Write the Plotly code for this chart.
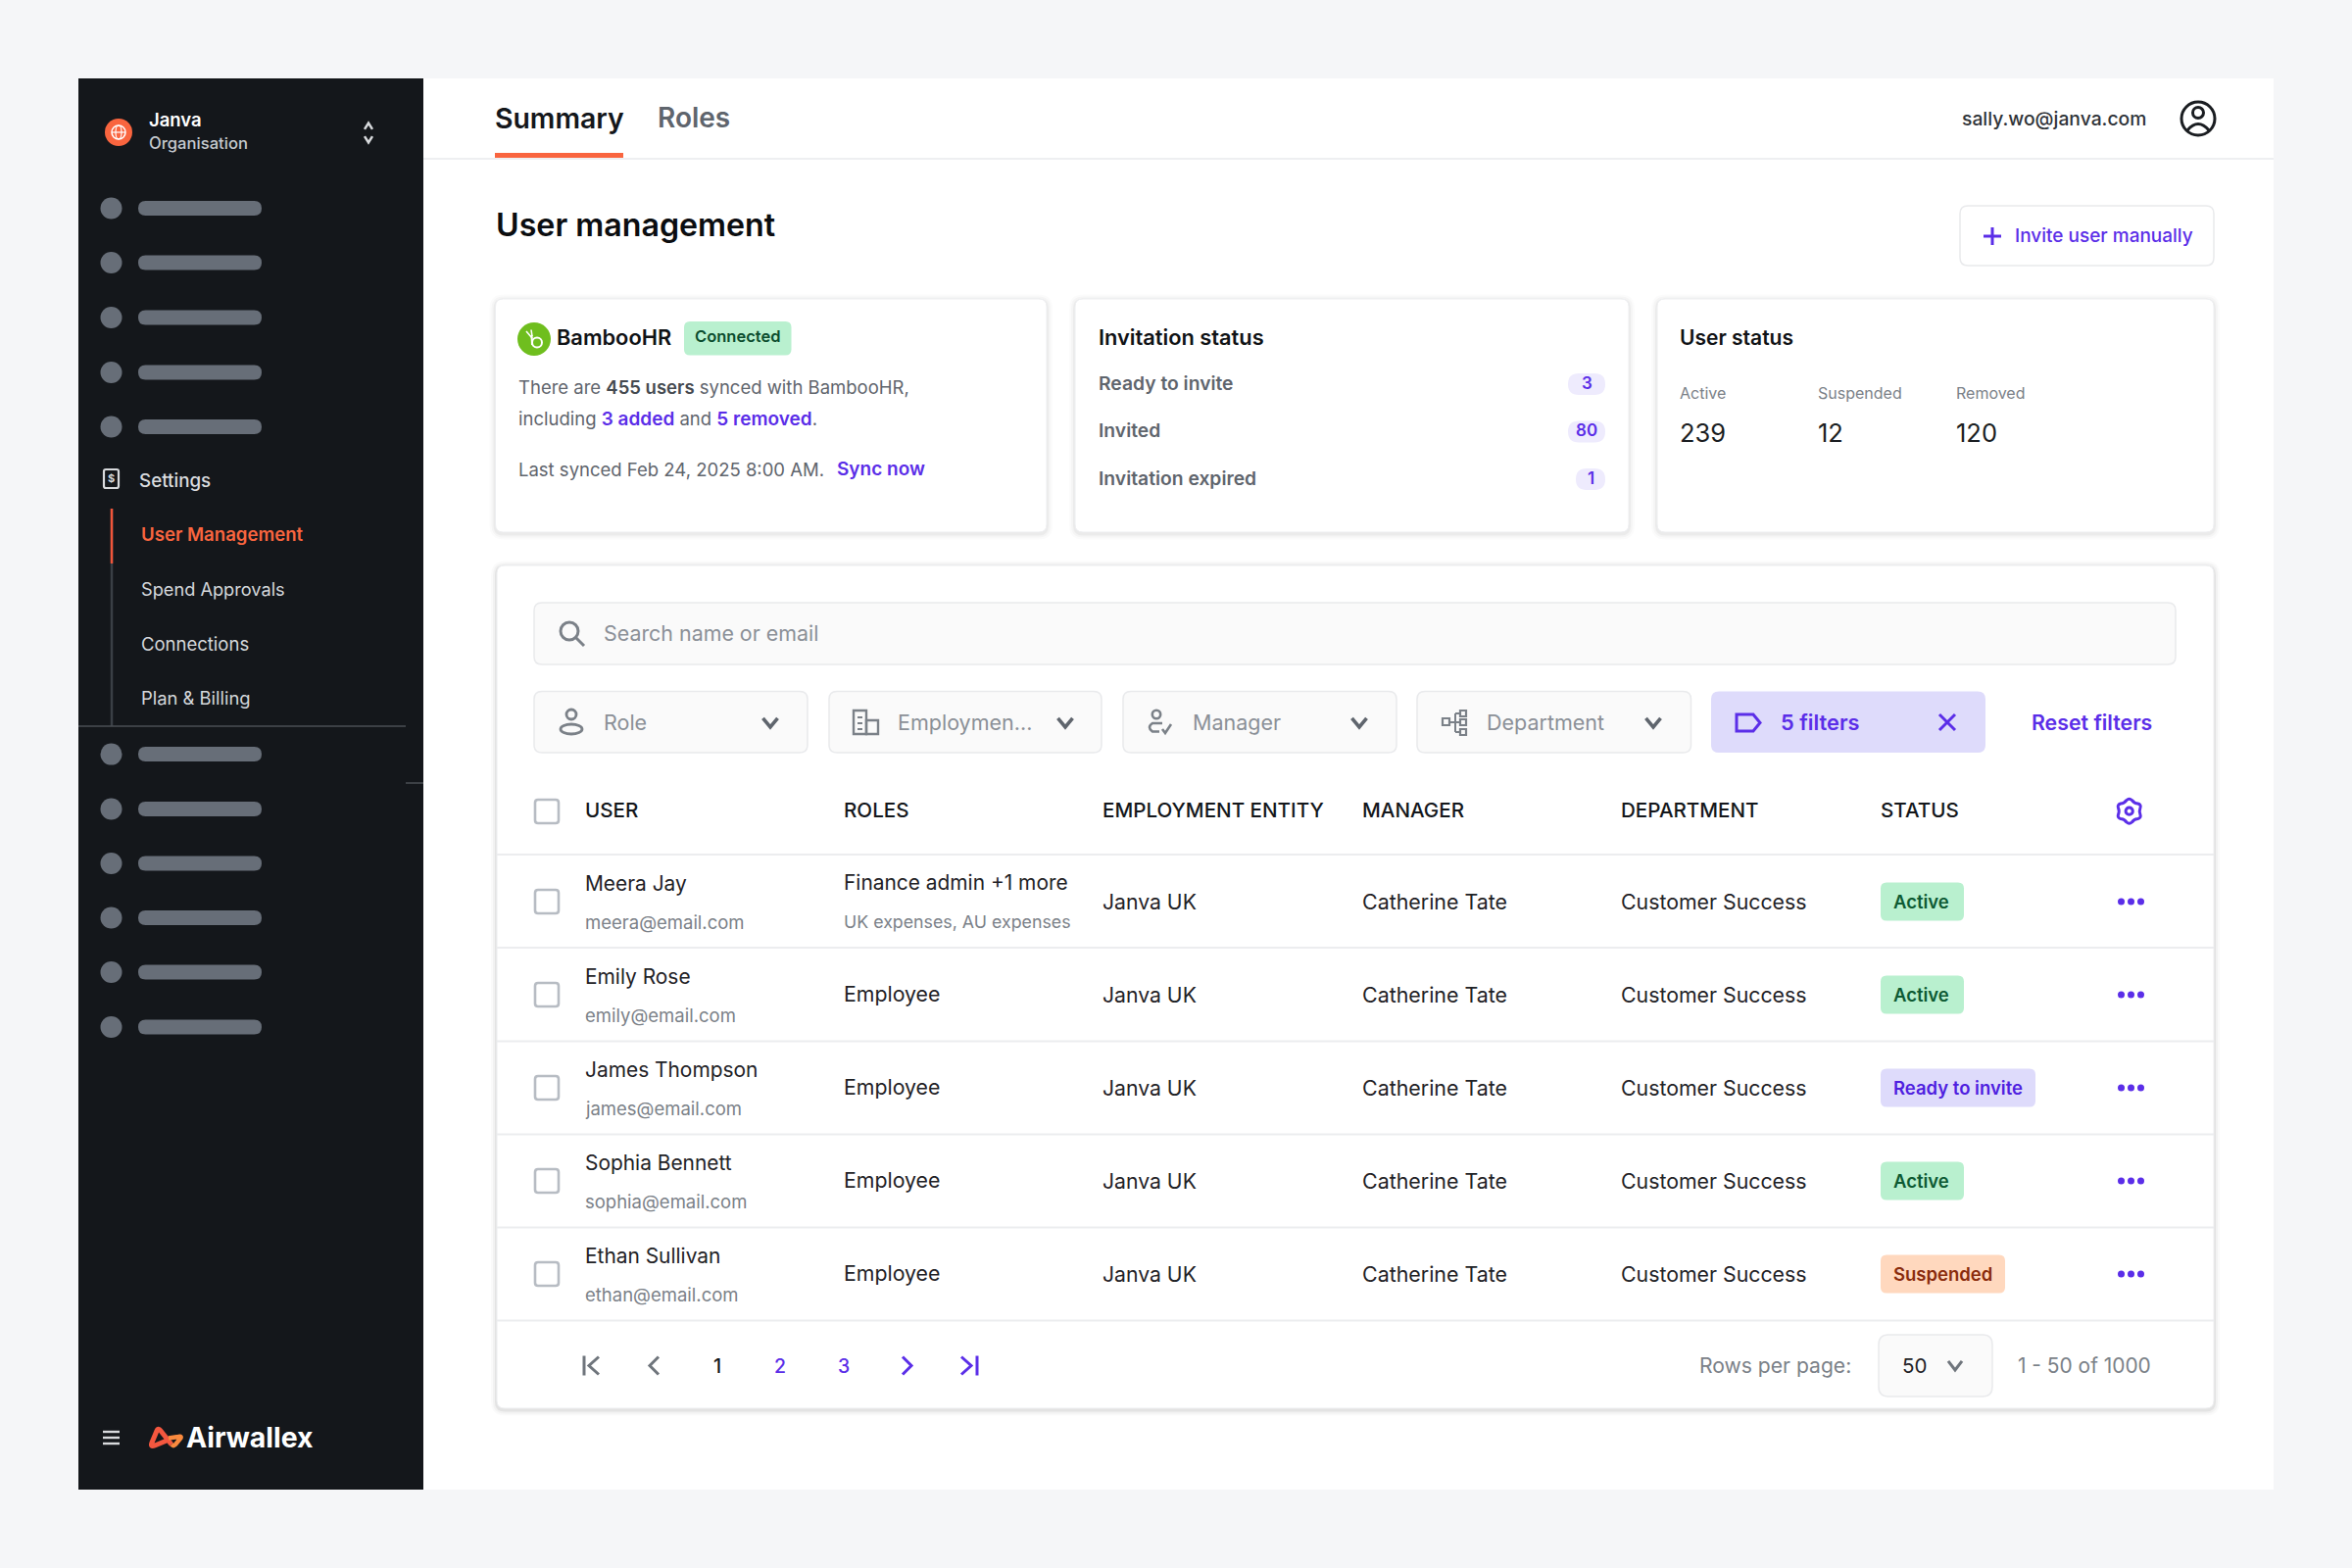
import plotly.graph_objects as go

# ---------- data ----------
org_name = "Janva"
org_sub = "Organisation"
tabs = ["Summary", "Roles"]
account_email = "sally.wo@janva.com"
page_title = "User management"
invite_label = "Invite user manually"
nav_items = ["User Management", "Spend Approvals", "Connections", "Plan & Billing"]
invitation_labels = ["Ready to invite", "Invited", "Invitation expired"]
invitation_counts = [3, 80, 1]
user_status_labels = ["Active", "Suspended", "Removed"]
user_status_counts = [239, 12, 120]
filter_labels = ["Role", "Employmen...", "Manager", "Department"]
columns = ["USER", "ROLES", "EMPLOYMENT ENTITY", "MANAGER", "DEPARTMENT", "STATUS"]
names = ["Meera Jay", "Emily Rose", "James Thompson", "Sophia Bennett", "Ethan Sullivan"]
emails = ["meera@email.com", "emily@email.com", "james@email.com", "sophia@email.com", "ethan@email.com"]
roles = ["Finance admin +1 more", "Employee", "Employee", "Employee", "Employee"]
role_notes = ["UK expenses, AU expenses", "", "", "", ""]
entities = ["Janva UK"] * 5
managers = ["Catherine Tate"] * 5
departments = ["Customer Success"] * 5
statuses = ["Active", "Active", "Ready to invite", "Active", "Suspended"]
pages = ["1", "2", "3"]

# ---------- style ----------
FONT = "Inter"
PURPLE = "#5B2EE8"
ORANGE = "#F9653F"
DARK = "#14171B"
GREY = "#7B8188"
MID = "#5F656D"
BORDER = "#E9EAEC"
LILAC = "#DEDBFB"
BADGE = {"Active": ("#B9F0CF", "#0D5A33", 85),
         "Ready to invite": (LILAC, "#4F1FE0", 158),
         "Suspended": ("#FFD8BE", "#8A2C0D", 127)}
TEXT_DY = -1.2

shapes, notes = [], []


def add(**k):
    k["layer"] = "below"
    shapes.append(k)


def rr_path(x0, y0, x1, y1, r):
    return (f"M{x0+r},{y0} L{x1-r},{y0} Q{x1},{y0} {x1},{y0+r} L{x1},{y1-r} Q{x1},{y1} {x1-r},{y1} "
            f"L{x0+r},{y1} Q{x0},{y1} {x0},{y1-r} L{x0},{y0+r} Q{x0},{y0} {x0+r},{y0} Z")


def rrect(x0, y0, x1, y1, r=6, fill="#FFFFFF", line=None, lw=1.5):
    add(type="path", path=rr_path(x0, y0, x1, y1, r), fillcolor=fill,
        line=dict(color=line or "rgba(0,0,0,0)", width=lw if line else 0))


def rect(x0, y0, x1, y1, fill):
    add(type="rect", x0=x0, y0=y0, x1=x1, y1=y1, fillcolor=fill, line=dict(width=0))


def box(x0, y0, x1, y1, color, w=2.3):
    add(type="rect", x0=x0, y0=y0, x1=x1, y1=y1, line=dict(color=color, width=w))


def stroke(path, color, w=2.5):
    add(type="path", path=path, line=dict(color=color, width=w), fillcolor="rgba(0,0,0,0)")


def hline(x0, x1, y, color=BORDER, w=1.5):
    add(type="line", x0=x0, x1=x1, y0=y, y1=y, line=dict(color=color, width=w))


def vline(x, y0, y1, color, w=2.5):
    add(type="line", x0=x, x1=x, y0=y0, y1=y1, line=dict(color=color, width=w))


def ellipse(cx, cy, rx, ry, fill="rgba(0,0,0,0)", line=None, w=2.5):
    add(type="circle", x0=cx-rx, x1=cx+rx, y0=cy-ry, y1=cy+ry, fillcolor=fill,
        line=dict(color=line or "rgba(0,0,0,0)", width=w if line else 0))


def text(x, y, s, size=21, color=DARK, weight=400, anchor="left"):
    notes.append(dict(x=x, y=y+TEXT_DY, xref="x", yref="y", text=s, showarrow=False, xanchor=anchor,
                      yanchor="middle", align=anchor, borderpad=0, borderwidth=0,
                      font=dict(family=FONT, size=size, color=color, weight=weight)))


def chevron(cx, cy, color=GREY, w=3, dx=7, dy=5, up=False):
    s = -1 if up else 1
    stroke(f"M{cx-dx},{cy-s*dy/1.2} L{cx},{cy+s*dy} L{cx+dx},{cy-s*dy/1.2}", color, w)


def card(x0, y0, x1, y1, k=1.0):
    for grow, alpha in ((6, 0.014), (4, 0.022), (2, 0.04)):
        rrect(x0-grow, y0-grow+1.5, x1+grow, y1+grow+1.5, 8+grow, f"rgba(0,0,0,{alpha*k})")
    rrect(x0, y0, x1, y1, 8, "#FFFFFF", "#EDEEF0", 1)


# ---------- page frame ----------
rect(80, 80, 2320, 1520, "#FFFFFF")
rect(80, 80, 432, 1520, "#14171B")

# ---------- sidebar ----------
ellipse(121, 135, 14, 14, ORANGE)
ellipse(121, 135, 7, 7, line="#FFFFFF", w=1.5)
ellipse(121, 135, 3, 7, line="#FFFFFF", w=1.2)
hline(114, 128, 135, "#FFFFFF", 1.2)
text(152, 123, org_name, 18.5, "#FFFFFF", 600)
text(152, 147, org_sub, 16.6, "#C5C9CE", 500)
chevron(376, 129, "#D8DADD", 2.5, 4, 3.5, up=True)
chevron(376, 142, "#D8DADD", 2.5, 4, 3.5)

skeleton_top = [212.5, 268, 324, 380, 435.5]
skeleton_bottom = [769.6, 825.5, 881, 936.5, 992, 1048]
for y in skeleton_top + skeleton_bottom:
    rrect(141, y-7.5, 267, y+7.5, 7.5, "#676E78")

rrect(106, 479, 121, 498, 2, "rgba(0,0,0,0)", "#D8DADD", 2.2)
text(113.5, 489, "$", 11, "#D8DADD", 700, "center")
text(141.5, 492, "Settings", 18.8, "#DADCDF", 500)
vline(114, 519, 741, "#3A3F45", 2.5)
vline(114, 519, 575, "#F0553A", 2.5)
nav_y = [546, 602, 658, 713.5]
nav_sizes = [18.6, 18.2, 18.5, 18.4]
for i, (lab, y, sz) in enumerate(zip(nav_items, nav_y, nav_sizes)):
    text(144, y, lab, sz, "#F9653F" if i == 0 else "#D5D8DB", 600 if i == 0 else 400)
hline(80, 414, 741, "#4A4F55", 1.5)
hline(414, 432, 799, "#4A4F55", 1.5)

for y in (1461, 1467, 1473):
    hline(105, 122, y, "#D8DADD", 2.4)
stroke("M170,1470 L158,1475 Q153,1477 155,1472 L160,1460 Q161.5,1456.5 164,1460 L175,1474", "#F4573F", 5)
stroke("M175,1474 Q177,1476 179,1474 L184,1468 Q186,1465 182,1466 L172,1467.5", "#FA8A3E", 4.5)
text(190, 1468, "Airwallex", 28.4, "#FFFFFF", 700)

# ---------- top bar ----------
text(505, 121.5, tabs[0], 28.4, DARK, 600)
text(671, 121.5, tabs[1], 28, MID, 600)
rect(505, 156, 636, 161, ORANGE)
hline(432, 2320, 162)
text(2002, 122, account_email, 19.3, "#2F3338", 500)
ellipse(2243, 121, 17, 17, line="#1A1D21", w=3)
ellipse(2243, 115, 5.5, 5.5, line="#1A1D21", w=3)
stroke("M2232,133 Q2243,120 2254,133", "#1A1D21", 3)

# ---------- heading ----------
text(506, 231, page_title, 32.2, "#0B0D10", 600)
rrect(2000, 210, 2259, 271, 8, "#FFFFFF", BORDER, 1.5)
hline(2024, 2042, 241, PURPLE, 3)
vline(2033, 232, 250, PURPLE, 3)
text(2056, 241.5, invite_label, 19, PURPLE, 500)

# ---------- summary cards ----------
card(505.5, 305, 1068, 543)
card(1097, 305, 1662, 543)
card(1691, 305, 2259, 543)
card(507, 577, 2259, 1437, 1.5)

ellipse(545, 346, 17, 17, "#6FBE1E")
ellipse(548, 349.5, 5, 5, line="#FFFFFF", w=2)
stroke("M542.5,342 L543,352", "#FFFFFF", 2)
stroke("M537,338 L543,345 M542,336.5 L543,343", "#FFFFFF", 1.6)
text(568, 345, "BambooHR", 21.8, "#111316", 600)
rrect(698, 328, 807.5, 362.5, 6, "#B9F0CF")
text(752.7, 344, "Connected", 16.5, "#0B4D2E", 600, "center")
bold_grey = "font-weight:600;color:#454A50"
bold_pur = f"font-weight:600;color:{PURPLE};font-size:19px"
text(528.5, 396, f'There are <span style="{bold_grey}">455 users</span> synced with BambooHR,', 18.5, MID)
text(528.5, 429, f'including <span style="{bold_pur}">3 added</span> and <span style="{bold_pur}">5 removed</span>.', 18.5, MID)
text(528.5, 480, "Last synced Feb 24, 2025 8:00 AM.", 18.5, MID)
text(854, 480, "Sync now", 19, PURPLE, 600)

text(1120.5, 345.5, "Invitation status", 21.8, "#111316", 600)
inv_y = [392, 440.5, 489]
inv_left = [1600, 1600, 1608]
for lab, n, y, xl in zip(invitation_labels, invitation_counts, inv_y, inv_left):
    text(1120.5, y, lab, 19.3, MID, 600)
    rrect(xl, y-11, 1638, y+11, 11, "#EEEBFD")
    text((xl+1638)/2, y, str(n), 17, PURPLE, 600, "center")

text(1714, 345.5, "User status", 21, "#111316", 600)
for lab, n, x in zip(user_status_labels, user_status_counts, (1714, 1854.5, 1995.5)):
    text(x, 402.5, lab, 16, GREY)
    text(x, 443, str(n), 25.5, "#1B1E22")

# ---------- search and filters ----------
rrect(545, 615, 2220, 678, 8, "#FAFAFA", BORDER, 1.5)
ellipse(581, 644, 9, 9, line=GREY, w=3)
stroke("M587.5,650.5 L596,659", GREY, 3)
text(615.5, 647, "Search name or email", 21.4, "#8B9097")

filter_x = [(545, 824), (846, 1124), (1146, 1425), (1446, 1725.5)]
filter_text_x = [616, 915.5, 1216.5, 1516.5]
chev_x = [786, 1087, 1387, 1687]
for lab, (x0, x1), tx, cx in zip(filter_labels, filter_x, filter_text_x, chev_x):
    rrect(x0, 705.5, x1, 768, 8, "#FAFAFA", BORDER, 1.5)
    text(tx, 738, lab, 21.5, "#8B9097")
    chevron(cx, 737, "#5F656D", 3.6, 7.5, 5)

# role icon
ellipse(583, 729, 5, 5, line=GREY, w=2.8)
ellipse(583, 744, 11, 5, line=GREY, w=2.8)
# employment icon
box(871, 725, 884, 749, GREY, 2.4)
box(884, 735, 896, 749, GREY, 2.4)
hline(875, 880, 732, GREY, 2)
hline(875, 880, 738, GREY, 2)
hline(875, 880, 744, GREY, 2)
# manager icon
ellipse(1180, 729, 4.2, 4.2, line=GREY, w=2.6)
stroke("M1186,738 L1176,738 Q1170,742 1176,746.5 L1183,746.5 M1186,744 L1189,748 L1195,739", GREY, 2.6)
# department icon
box(1472, 733, 1479, 740, GREY, 2.2)
for yy in (725, 734, 744):
    box(1490, yy, 1496, yy+6, GREY, 2.2)
stroke("M1479,737 L1490,737 M1485,728 L1485,747 M1485,728 L1490,728 M1485,747 L1490,747", GREY, 2)

rrect(1746, 705.5, 2026, 768, 8, LILAC)
stroke("M1772,729 L1789,729 L1796,737.5 L1789,746 L1772,746 Z", PURPLE, 3)
text(1817, 738, "5 filters", 21.8, PURPLE, 600)
stroke("M1979,729 L1995,745 M1995,729 L1979,745", PURPLE, 3)
text(2072.5, 738, "Reset filters", 21.3, PURPLE, 600)

# ---------- table ----------
col_x = [596.5, 860.5, 1125, 1389.5, 1654, 1918.5]
header_y = 828
row_y = [920, 1015, 1110, 1205, 1300]
line_y = [872, 967, 1062.5, 1157.5, 1252.5, 1347.5]

rrect(546, 816, 570, 840, 3, "#FFFFFF", "#B7BCC3", 2.6)
for lab, x in zip(columns, col_x):
    text(x, header_y, lab, 20.6, DARK, 500)
stroke("M2170,816.5 Q2172.7,814 2175.4,816.5 Q2178,820 2181.5,820 Q2185,821 2184,824 Q2182.5,827.7 2184,831.5 "
       "Q2185,834.5 2181.5,835.5 Q2178,835.5 2175.4,839 Q2172.7,841.5 2170,839 Q2167.4,835.5 2164,835.5 "
       "Q2160.5,834.5 2161.4,831.5 Q2163,827.7 2161.4,824 Q2160.5,821 2164,820 Q2167.4,820 2170,816.5 Z", PURPLE, 3)
ellipse(2172.7, 827.7, 3.6, 3.6, line=PURPLE, w=3)
for y in line_y:
    hline(507, 2259, y, "#ECEDEF", 2)

for i, y in enumerate(row_y):
    rrect(546, y-12, 570, y+12, 3, "#FFFFFF", "#B7BCC3", 2.6)
    text(col_x[0], y-17, names[i], 20.9, "#1F2226")
    text(col_x[0], y+22.5, emails[i], 18.5, GREY)
    if role_notes[i]:
        text(col_x[1], y-18, roles[i], 20.9, "#1F2226")
        text(col_x[1], y+22, role_notes[i], 17.8, GREY)
    else:
        text(col_x[1], y+0.5, roles[i], 21.3, "#1F2226")
    text(col_x[2], y+1, entities[i], 21.2, "#1F2226")
    text(col_x[3], y+1, managers[i], 21.4, "#1F2226")
    text(col_x[4], y+1, departments[i], 21.3, "#1F2226")
    fill, ink, w = BADGE[statuses[i]]
    rrect(1919, y-19.5, 1919+w, y+19.5, 6, fill)
    text(1931.6, y+1.2, statuses[i], 18.5, ink, 600)

# ---------- pagination ----------
py = 1393.5
vline(596, py-10, py+10, "#6F757C", 3)
stroke(f"M611,{py-9} L601,{py} L611,{py+9}", "#6F757C", 3)
stroke(f"M672,{py-9} L663,{py} L672,{py+9}", "#6F757C", 3)
for p, x in zip(pages, (732, 796, 860.5)):
    text(x, py+1.2, p, 19.5, DARK if p == "1" else PURPLE, 500, "center")
stroke(f"M921,{py-9} L930,{py} L921,{py+9}", PURPLE, 3)
stroke(f"M981,{py-9} L991,{py} L981,{py+9}", PURPLE, 3)
vline(997, py-10, py+10, PURPLE, 3)
text(1734, py+1.2, "Rows per page:", 21.1, GREY)
rrect(1917, 1362, 2033, 1425, 10, "#FAFAFA", BORDER, 1.5)
text(1941, py+1.2, "50", 20.5, "#1F2226")
chevron(1995, 1393, "#6F757C", 3, 7, 5)
text(2058.5, py+1.2, "1 - 50 of 1000", 20.9, GREY)

# ---------- point marks ----------
sk_trace = go.Scatter(x=[113.5]*(len(skeleton_top)+len(skeleton_bottom)), y=skeleton_top+skeleton_bottom,
                      mode="markers", marker=dict(size=22, color="#676E78", line=dict(width=0)), hoverinfo="skip")
dots_x, dots_y = [], []
for y in row_y:
    for dx in (-10, 0, 10):
        dots_x.append(2174.5+dx)
        dots_y.append(y)
dots_trace = go.Scatter(x=dots_x, y=dots_y, mode="markers",
                        marker=dict(size=7, color=PURPLE, line=dict(width=0)), hoverinfo="skip")

fig = go.Figure([sk_trace, dots_trace])
fig.update_layout(
    width=2400, height=1600, autosize=False, showlegend=False,
    margin=dict(l=0, r=0, t=0, b=0, pad=0),
    paper_bgcolor="#F5F6F8", plot_bgcolor="rgba(0,0,0,0)",
    xaxis=dict(range=[0, 2400], visible=False, fixedrange=True),
    yaxis=dict(range=[1600, 0], visible=False, fixedrange=True),
    shapes=shapes, annotations=notes, font=dict(family=FONT),
)
fig.write_html("out.html", config=dict(displayModeBar=False),
               post_script="document.body.style.margin='0';")
